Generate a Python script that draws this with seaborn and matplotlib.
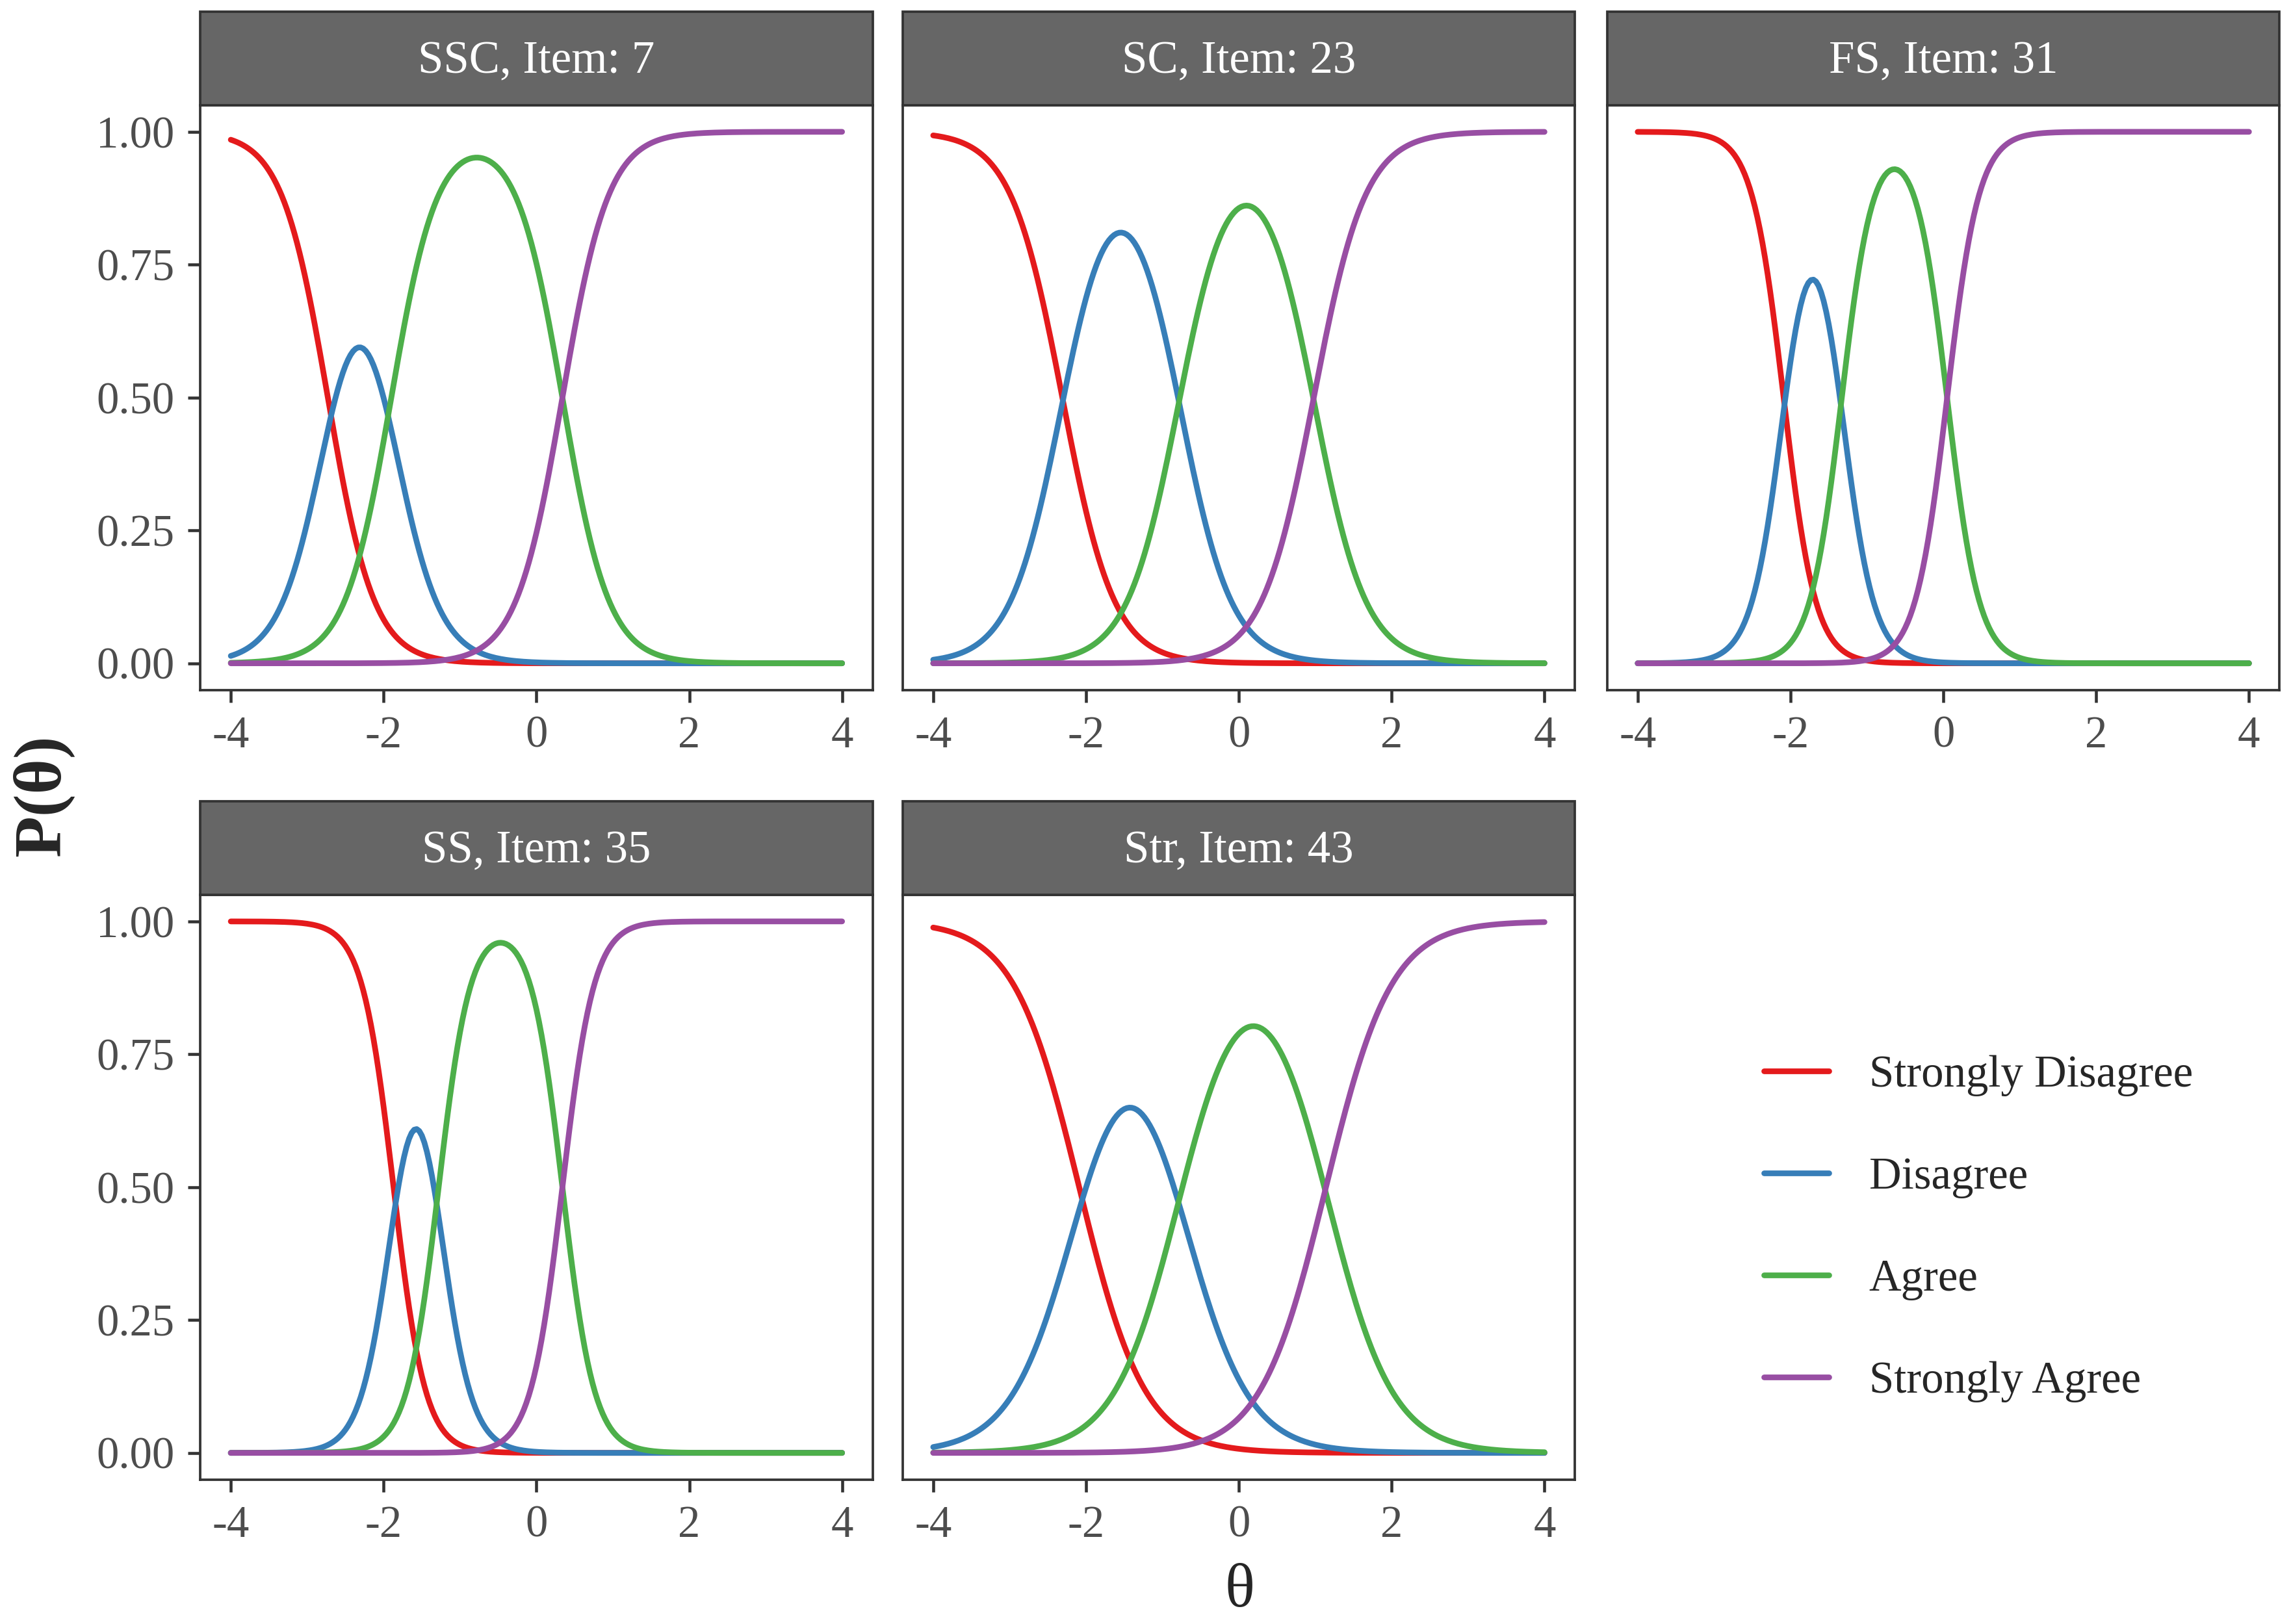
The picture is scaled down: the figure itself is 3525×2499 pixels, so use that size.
import numpy as np
import pandas as pd
import matplotlib
matplotlib.use("Agg")
import matplotlib.pyplot as plt
import seaborn as sns
from matplotlib.patches import Rectangle
from matplotlib.lines import Line2D

# ---- data (graded response model item parameters) ----
items = ["SSC, Item: 7", "SC, Item: 23", "FS, Item: 31", "SS, Item: 35", "Str, Item: 43"]
slopes = [3.3, 2.95, 4.8, 4.8, 2.33]
thresh1 = [-2.73, -2.31, -2.09, -1.87, -2.09]
thresh2 = [-1.90, -0.78, -1.33, -1.28, -0.76]
thresh3 = [0.34, 0.98, 0.05, 0.34, 1.14]
categories = ["Strongly Disagree", "Disagree", "Agree", "Strongly Agree"]
colors = ["#E41A1C", "#377EB8", "#4DAF4A", "#984EA3"]
x_ticks = [-4, -2, 0, 2, 4]
y_ticks = [0.0, 0.25, 0.50, 0.75, 1.00]

theta = np.linspace(-4, 4, 241)


def cum(a, b):
    return 1.0 / (1.0 + np.exp(-a * (theta - b)))


frames = []
for name, a, t1, t2, t3 in zip(items, slopes, thresh1, thresh2, thresh3):
    p1, p2, p3 = cum(a, t1), cum(a, t2), cum(a, t3)
    probs = [1 - p1, p1 - p2, p2 - p3, p3]
    for cat, p in zip(categories, probs):
        frames.append(pd.DataFrame({"item": name, "category": cat, "theta": theta, "prob": p}))
df = pd.concat(frames, ignore_index=True)

# ---- styling ----
sns.set_theme(style="white")
plt.rcParams["font.family"] = ["Liberation Serif", "DejaVu Serif"]
plt.rcParams["axes.unicode_minus"] = False

fig = plt.figure(figsize=(11.75, 8.33), dpi=300)

lefts = [0.0874, 0.394, 0.7015]
bottoms = [0.5752, 0.089]
w, h = 0.2935, 0.360
strip_h = 0.0576
lw = 2.1

for i, name in enumerate(items):
    r, c = divmod(i, 3)
    ax = fig.add_axes([lefts[c], bottoms[r], w, h])
    sns.lineplot(data=df[df["item"] == name], x="theta", y="prob", hue="category",
                 hue_order=categories, palette=colors, linewidth=lw,
                 errorbar=None, legend=False, ax=ax)
    ax.set_xlim(-4.4, 4.4)
    ax.set_ylim(-0.05, 1.05)
    ax.set_xticks(x_ticks)
    ax.set_xticklabels([str(v) for v in x_ticks])
    ax.set_yticks(y_ticks)
    ax.set_yticklabels([f"{v:.2f}" for v in y_ticks])
    ax.set_xlabel("")
    ax.set_ylabel("")
    for s in ax.spines.values():
        s.set_color("#333333")
        s.set_linewidth(0.9)
    ax.tick_params(axis="both", length=4.5, width=1.1, color="#333333",
                   labelsize=16.5, labelcolor="#4D4D4D", pad=5, bottom=True, left=True)
    if c != 0:
        ax.tick_params(axis="y", left=False, labelleft=False)
    # facet strip
    top = bottoms[r] + h
    fig.add_artist(Rectangle((lefts[c], top), w, strip_h, transform=fig.transFigure,
                             facecolor="#666666", edgecolor="#333333", linewidth=0.9))
    fig.text(lefts[c] + w / 2, top + strip_h / 2 - 0.002, name, color="white", fontsize=17,
             ha="center", va="center")

handles = [Line2D([0], [0], color=col, lw=lw) for col in colors]
fig.legend(handles, categories, loc="center left", bbox_to_anchor=(0.770, 0.2435),
           frameon=False, fontsize=16.5, handlelength=1.45, handletextpad=0.9,
           labelspacing=1.36, borderpad=0, borderaxespad=0)

fig.text(0.019, 0.51, "P(θ)", rotation=90, fontweight="bold", fontsize=25,
         ha="center", va="center")
fig.text(0.541, 0.020, "θ", fontsize=23, ha="center", va="center")

fig.savefig("out.png", dpi=300)
